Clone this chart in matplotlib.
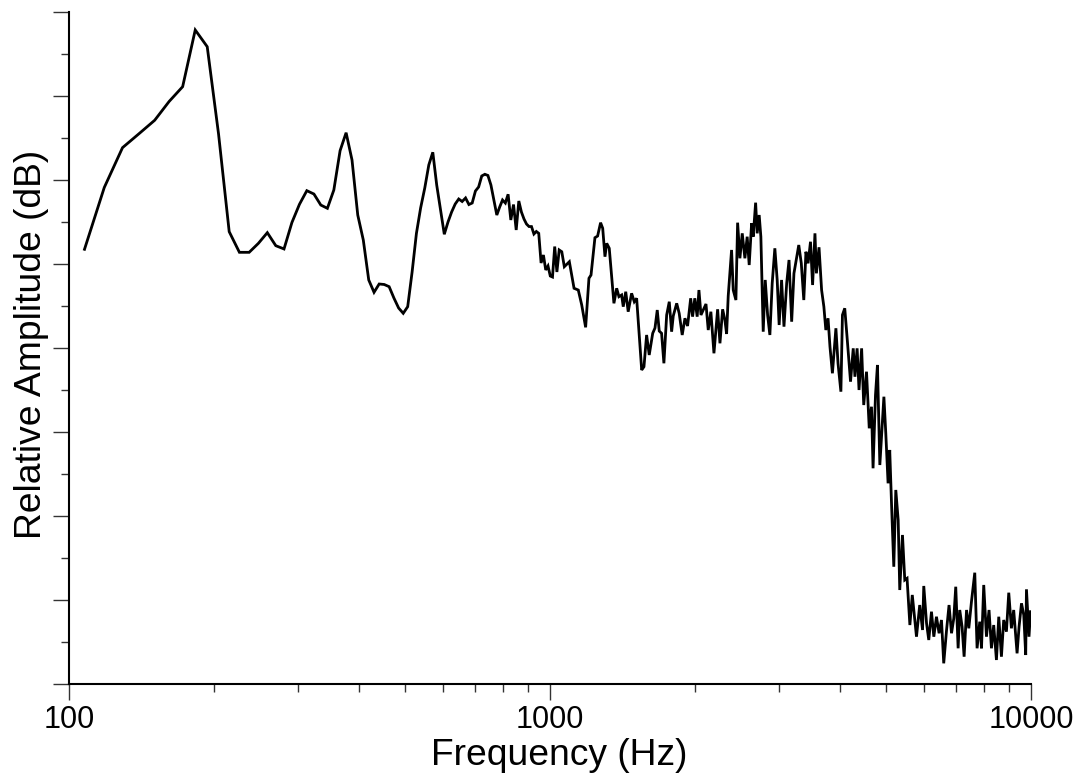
import matplotlib
matplotlib.use("Agg")
import matplotlib.pyplot as plt
from matplotlib.ticker import MultipleLocator, LogLocator, NullFormatter

plt.rcParams['font.family'] = ['Liberation Sans', 'DejaVu Sans']

# ---- data: spectrum, low band (individual FFT bins) ----
freq_low = [107.7, 118.4, 129.2, 140.0, 150.7, 161.5, 172.3, 183.0, 193.8, 204.6,
            215.3, 226.1, 236.9, 247.6, 258.4, 269.1, 279.9, 290.7, 301.4, 312.2,
            323.0, 333.8, 344.5, 355.3, 366.1, 376.8, 387.6, 398.4, 409.1, 419.9,
            430.7, 441.4, 452.2, 463.0, 473.7, 484.5, 495.3, 506.0, 516.8, 527.6,
            538.3, 549.1, 559.8, 570.6, 581.4, 592.1, 602.9, 613.7, 624.4, 635.2,
            646.0, 656.7, 667.5, 678.3, 689.0, 699.8, 710.6, 721.3, 732.1, 742.9,
            753.7, 764.4, 775.2, 786.0, 796.7, 807.5, 818.3, 829.0, 839.8, 850.6,
            861.3, 872.1, 882.9, 893.6, 904.4, 915.2, 925.9, 936.7, 947.5, 958.2,
            969.0, 979.8, 990.5, 1001.3, 1012.0, 1022.8, 1033.6]
db_low = [-28.25, -20.89, -16.15, -14.46, -12.89, -10.65, -8.89, -2.14, -4.13, -14.52,
          -26.15, -28.61, -28.61, -27.54, -26.27, -27.82, -28.21, -25.06, -22.89, -21.27,
          -21.67, -22.98, -23.37, -21.19, -16.51, -14.37, -17.62, -24.17, -27.14, -31.90,
          -33.37, -32.38, -32.44, -32.70, -34.05, -35.24, -35.87, -35.08, -30.95, -26.35,
          -23.33, -20.95, -18.21, -16.70, -20.60, -23.57, -26.46, -25.00, -23.81, -22.86,
          -22.26, -22.56, -22.14, -22.92, -22.74, -21.31, -20.83, -19.52, -19.32, -19.46,
          -20.60, -22.38, -24.17, -23.21, -22.38, -22.74, -21.70, -24.76, -22.92, -25.95,
          -22.50, -23.81, -24.64, -25.24, -25.54, -25.54, -26.43, -26.13, -26.35, -29.88,
          -28.93, -30.71, -30.24, -31.43, -31.55, -27.92, -30.95]

# ---- data: spectrum, high band ----
freq_high = [1045, 1058, 1071, 1097, 1122, 1145, 1164, 1186, 1205, 1217,
             1240, 1256, 1274, 1287, 1301, 1312, 1328, 1358, 1376, 1391,
             1409, 1420, 1437, 1454, 1478, 1497, 1514, 1551, 1568, 1588,
             1608, 1635, 1653, 1671, 1687, 1706, 1725, 1748, 1770, 1790,
             1804, 1834, 1856, 1883, 1908, 1932, 1961, 1979, 2000, 2023,
             2040, 2060, 2110, 2133, 2160, 2192, 2231, 2256, 2285, 2310,
             2329, 2347, 2385, 2404, 2435, 2455, 2482, 2510, 2542, 2570,
             2595, 2625, 2645, 2676, 2696, 2722, 2744, 2775, 2802, 2834,
             2865, 2897, 2934, 2967, 2995, 3030, 3065, 3105, 3140, 3180,
             3215, 3255, 3290, 3330, 3370, 3405, 3440, 3480, 3515, 3555,
             3580, 3625, 3670, 3710, 3745, 3785, 3820, 3865, 3930, 3970,
             4025, 4055, 4100, 4145, 4215, 4270, 4305, 4350, 4390, 4445,
             4490, 4550, 4610, 4660, 4695, 4750, 4795, 4850, 4945, 4990,
             5045, 5085, 5130, 5185, 5235, 5295, 5335, 5405, 5465, 5525,
             5600, 5665, 5715, 5780, 5870, 5950, 5985, 6065, 6130, 6210,
             6280, 6360, 6440, 6515, 6585, 6675, 6755, 6835, 6910, 6975,
             7055, 7110, 7190, 7260, 7345, 7425, 7520, 7640, 7725, 7825,
             7890, 7975, 8080, 8180, 8275, 8365, 8475, 8570, 8680, 8775,
             8890, 8990, 9105, 9205, 9355, 9445, 9555, 9660, 9750, 9785,
             9905, 9975]
db_high = [-28.33, -28.54, -30.32, -29.73, -32.89, -33.10, -34.88, -37.54, -31.70, -31.31,
           -26.87, -26.67, -25.08, -25.75, -29.13, -27.54, -28.13, -34.68, -32.89, -33.89,
           -33.69, -35.08, -33.30, -35.68, -33.49, -34.49, -34.08, -42.62, -42.23, -38.45,
           -40.83, -38.25, -37.62, -35.48, -37.98, -38.25, -41.82, -36.07, -34.49, -38.06,
           -36.19, -34.68, -35.87, -38.45, -36.46, -37.38, -34.08, -36.27, -34.08, -36.27,
           -33.10, -36.07, -34.76, -37.86, -35.68, -40.63, -35.39, -39.44, -35.39, -36.67,
           -38.33, -33.81, -28.33, -33.10, -34.29, -25.08, -29.32, -26.35, -29.32, -26.75,
           -30.12, -25.15, -26.75, -22.70, -26.35, -24.17, -26.75, -38.06, -31.90, -36.07,
           -38.45, -32.30, -28.13, -31.90, -37.26, -31.90, -37.46, -32.30, -29.52, -36.87,
           -31.11, -29.32, -27.74, -29.92, -34.29, -28.54, -29.92, -27.35, -32.50, -26.35,
           -31.11, -28.01, -33.10, -35.08, -37.86, -36.46, -39.85, -43.01, -37.65, -41.82,
           -45.20, -36.07, -35.27, -38.65, -44.01, -40.04, -43.42, -40.04, -45.00, -40.04,
           -46.79, -42.82, -49.56, -46.99, -54.32, -45.60, -42.02, -53.93, -45.80, -50.15,
           -56.11, -52.14, -58.69, -66.04, -56.90, -60.48, -68.81, -62.26, -67.62, -67.42,
           -72.98, -69.40, -71.58, -74.37, -70.60, -73.57, -68.33, -72.77, -74.76, -71.39,
           -74.37, -71.99, -73.96, -72.38, -77.54, -73.57, -70.60, -73.96, -72.18, -68.42,
           -75.75, -71.19, -73.18, -76.75, -71.19, -73.37, -70.20, -66.75, -75.75, -72.58,
           -75.75, -68.21, -74.37, -71.19, -75.75, -72.98, -77.14, -71.99, -76.75, -72.38,
           -73.77, -69.13, -73.37, -71.19, -76.35, -73.18, -70.39, -71.79, -76.55, -68.73,
           -74.37, -71.39]

xtick_values = [100, 1000, 10000]
xtick_labels = ["100", "1000", "10000"]
x_label = "Frequency (Hz)"
y_label = "Relative Amplitude (dB)"

freq = freq_low + freq_high
level = db_low + db_high

W, H = 1081, 782
fig = plt.figure(figsize=(W / 100, H / 100), dpi=100)
ax = fig.add_axes([69 / W, 98 / H, 962 / W, 672 / H])

ax.semilogx(freq, level, color="black", lw=2.0, solid_joinstyle="miter")
ax.set_xlim(100, 10000)
ax.set_ylim(-80, 0)

for s in ("top", "right"):
    ax.spines[s].set_visible(False)
for s in ("left", "bottom"):
    ax.spines[s].set_linewidth(1.5)
    ax.spines[s].set_color("black")

ax.set_xticks(xtick_values)
ax.set_xticklabels(xtick_labels)
ax.xaxis.set_minor_locator(LogLocator(base=10, subs=range(2, 10)))
ax.xaxis.set_minor_formatter(NullFormatter())
ax.yaxis.set_major_locator(MultipleLocator(10))
ax.yaxis.set_minor_locator(MultipleLocator(5))
ax.tick_params(axis="both", which="major", direction="out", length=11.5, width=1.0,
               color="#333333", labelsize=22, pad=3.5)
ax.tick_params(axis="both", which="minor", direction="out", length=5.8, width=1.0,
               color="#333333")
ax.tick_params(axis="y", which="both", labelleft=False)

ax.set_xlabel(x_label, fontsize=26.8)
ax.set_ylabel(y_label, fontsize=26.8)
ax.xaxis.set_label_coords(0.5094, -0.080)
ax.yaxis.set_label_coords(-0.021, 0.506)

fig.savefig("out.png", dpi=100)
